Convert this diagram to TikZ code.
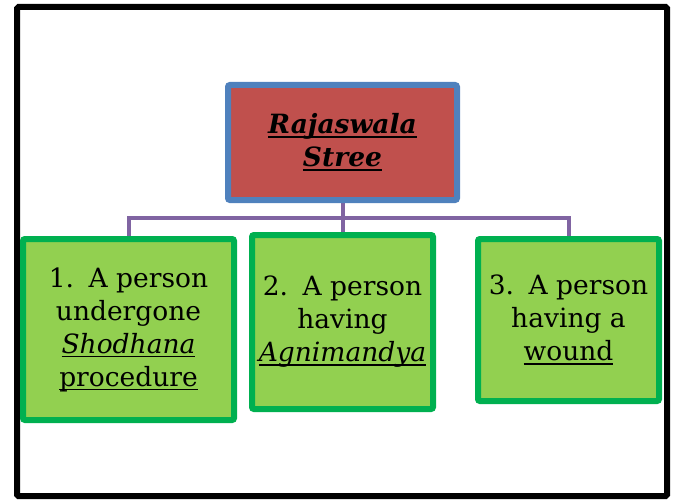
\documentclass[tikz,border=0pt]{standalone}
\usepackage{fontspec}
\usetikzlibrary{backgrounds}
\setmainfont{DejaVu Serif}
\newcommand\myul[1]{\setbox0\hbox{#1}\rlap{\vrule height -2.5pt depth 4.4pt width \wd0}\box0}
\definecolor{topfill}{HTML}{C0504D}
\definecolor{topdraw}{HTML}{4F81BD}
\definecolor{gfill}{HTML}{92D050}
\definecolor{gdraw}{HTML}{00B050}
\definecolor{conn}{HTML}{8064A2}
\tikzset{
  topbox/.style={draw=topdraw, fill=topfill, line width=6pt, rounded corners=2pt,
    minimum width=229pt, minimum height=115pt, inner sep=0pt, align=center,
    font=\fontsize{26.5}{33}\selectfont\bfseries\itshape},
  greenbox/.style={draw=gdraw, fill=gfill, line width=6pt, rounded corners=2pt,
    inner sep=0pt, align=center, font=\fontsize{26.5}{33}\selectfont},
  connector/.style={draw=conn, line width=4pt},
  frame/.style={draw=black, line width=6pt, rounded corners=1.5pt}
}
\begin{document}
\begin{tikzpicture}[x=1pt,y=-1pt]
\useasboundingbox (0,0) rectangle (684,500);
\draw[frame] (17,7) rectangle (667,496);
\coordinate (bar) at (342.5,218);
\node[topbox] (top) at (342.5,142.5) {\myul{Rajaswala}\\\myul{Stree}};
\node[greenbox, minimum width=211pt, minimum height=181pt] (b1) at (128.5,329.5)
  {1.\hspace{0.55em}A person\\undergone\\\myul{\itshape Shodhana}\\\myul{procedure}};
\node[greenbox, minimum width=181pt, minimum height=174pt] (b2) at (342.5,322)
  {2.\hspace{0.55em}A person\\having\\\myul{\itshape Agnimandya}};
\node[greenbox, minimum width=181pt, minimum height=162pt] (b3) at (568.5,320)
  {3.\hspace{0.55em}A person\\having a\\\myul{wound}};
\begin{scope}[on background layer]
\draw[connector] (top.south) -- (b2.north);
\draw[connector] (b1.north) -- (b1.north |- bar) -- (b3.north |- bar) -- (b3.north);
\end{scope}
\end{tikzpicture}
\end{document}
